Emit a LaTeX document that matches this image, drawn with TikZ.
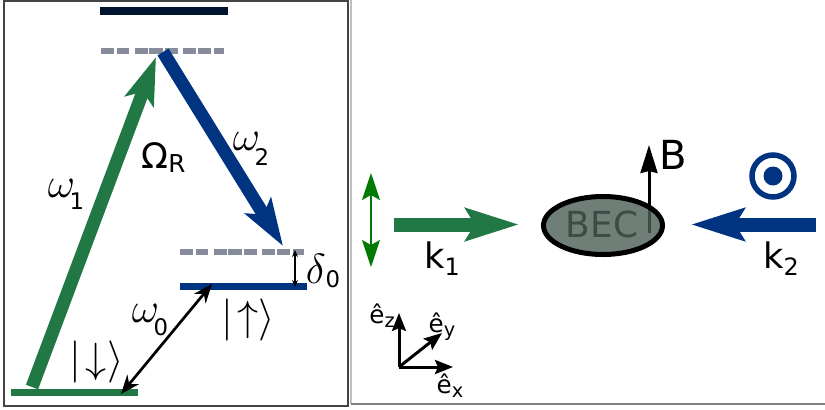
\documentclass[tikz,border=0pt]{standalone}
\usepackage{fontspec}
\setmainfont{DejaVu Sans}
\usetikzlibrary{arrows.meta, shapes.geometric, positioning}
\definecolor{colorVerde}{HTML}{217844}
\definecolor{colorAzul}{HTML}{003380}
\definecolor{colorNoche}{HTML}{00132F}
\definecolor{colorGris}{HTML}{868C9C}
\definecolor{colorPol}{HTML}{007A00}
\definecolor{colorMarco}{HTML}{444444}
\definecolor{colorBec}{HTML}{4B5F56}
% subindice: bajada y tamano
\newcommand{\subi}[3]{\raisebox{-#1pt}{\fontsize{#2}{8}\selectfont #3}}

\begin{document}
\begin{tikzpicture}[font=\fontsize{10}{12}\selectfont, >=Latex,
        level/.style={line width=0.7mm},
        virtual/.style={line width=0.6mm, colorGris, dash pattern=on 1.3mm off 0.3mm on 1.2mm off 0.6mm on 1.3mm off 0.1mm on 1.4mm off 0.2mm on 1.3mm off 0.5mm on 1.3mm off 0.2mm on 1.3mm off 0.3mm on 1.1mm off 1mm},
        beam/.style={line width=1.3mm, -{Stealth[length=4.7mm, width=3mm, inset=1mm]}},
        kbeam/.style={line width=1.4mm, -{Stealth[length=5.3mm, width=3.2mm, inset=0.9mm]}},
        axis/.style={line width=0.3mm, -{Stealth[length=1.8mm, width=1.4mm, inset=0.3mm]}},
        lab/.style={inner sep=0pt, anchor=base},
        sym/.style={inner sep=0pt, anchor=base, font=\fontsize{12}{14}\selectfont},
        eje/.style={inner sep=0pt, anchor=base, font=\fontsize{7}{9}\selectfont}]
        \useasboundingbox (0,0) rectangle (8.25,4.09);
        % marcos
        \draw[colorMarco, line width=0.2mm] (0.035,0.035) rectangle (3.48,4.08);
        \draw[black!25, line width=0.25mm] (3.51,4.09) -- (3.51,0.05);
        \draw[black!50, line width=0.15mm] (3.51,0.05) -- (8.25,0.05);
        % niveles
        \draw[colorNoche, line width=0.85mm, rounded corners=0.2mm] (1.00,3.98) -- (2.28,3.98);
        \draw[virtual] (1.01,3.58) -- (2.24,3.58);
        \draw[virtual] (1.80,1.57) -- (3.04,1.57);
        \draw[level, colorAzul] (1.80,1.225) -- (3.07,1.225);
        \draw[level, colorVerde] (0.11,0.17) -- (1.38,0.17);
        \coordinate (w1a) at (0.32,0.22);
        \coordinate (w1b) at (1.56,3.52);
        \coordinate (w2a) at (1.63,3.57);
        \coordinate (w2b) at (2.83,1.63);
        \coordinate (w0a) at (2.12,1.25);
        \coordinate (w0b) at (1.21,0.15);
        \coordinate (d0a) at (2.95,1.59);
        \coordinate (d0b) at (2.95,1.22);
        \draw[beam, colorVerde] (w1a) -- (w1b);
        \draw[beam, colorAzul] (w2a) -- (w2b);
        \draw[line width=0.27mm, {Stealth[length=1.9mm, width=1.5mm]}-{Stealth[length=1.9mm, width=1.5mm]}] (w0a) -- (w0b);
        \draw[line width=0.12mm, {Stealth[length=0.7mm, width=0.6mm]}-{Stealth[length=0.7mm, width=0.6mm]}] (d0a) -- (d0b);
        \node[sym] (wuno) at (0.66,2.12) {$\omega$\kern-1.5pt\subi{3.6}{6.5}{1}};
        \node[sym] (wdos) at (2.51,2.59) {$\omega$\kern-1.5pt\subi{4.5}{6.5}{2}};
        \node[sym] (wcero) at (1.50,0.87) {$\omega$\kern-1.5pt\subi{3.7}{6.5}{0}};
        \node[lab] (rabi) at (1.635,2.41) {Ω\subi{1.4}{7}{R}};
        \node[sym] (delta) at (3.23,1.26) {$\delta$\subi{1.4}{6.5}{0}};
        \node[sym] (abajo) at (0.965,0.37) {$|\!\downarrow\rangle$};
        \node[sym] (arriba) at (2.48,0.79) {$|\!\uparrow\rangle$};
        % BEC, bajo la elipse
        \coordinate (centro) at (6.03,1.835);
        \coordinate (bbase) at (6.49,1.76);
        \coordinate (btip) at (6.49,2.64);
        \node[lab, font=\fontsize{10.2}{12}\selectfont] (becl) at (6.02,1.72) {BEC};
        \draw[line width=0.3mm, -{Stealth[length=2.8mm, width=1.7mm, inset=0.2mm]}] (bbase) -- (btip);
        \node[draw, ellipse, line width=0.5mm, minimum width=1.19cm, minimum height=0.58cm,
            inner sep=0pt, fill=colorBec, fill opacity=0.8, draw opacity=1] (bec) at (centro) {};
        \node[lab, font=\fontsize{11.4}{14}\selectfont] (bfield) at (6.735,2.40) {B};
        % haces
        \coordinate (kunoa) at (3.94,1.845);
        \coordinate (kunob) at (5.19,1.845);
        \coordinate (kdosa) at (8.16,1.845);
        \coordinate (kdosb) at (6.91,1.845);
        \coordinate (pola) at (3.71,2.36);
        \coordinate (polb) at (3.71,1.42);
        \draw[kbeam, colorVerde] (kunoa) -- (kunob);
        \draw[kbeam, colorAzul] (kdosa) -- (kdosb);
        \draw[line width=0.2mm, colorPol, {Stealth[length=2.7mm, width=1.8mm, inset=0.5mm]}-{Stealth[length=2.7mm, width=1.8mm, inset=0.5mm]}] (pola) -- (polb);
        \node[lab] (kuno) at (4.42,1.41) {k\subi{2}{6.8}{1}};
        \node[lab] (kdos) at (7.81,1.41) {k\subi{2}{6.8}{2}};
        \node[circle, draw=colorAzul, line width=0.55mm, minimum size=0.42cm, inner sep=0pt] (polcirc) at (7.73,2.33) {};
        \node[circle, fill=colorAzul, minimum size=0.19cm, inner sep=0pt] (poldot) at (polcirc) {};
        % ejes
        \coordinate (orig) at (3.99,0.42);
        \coordinate (ex) at (4.53,0.42);
        \coordinate (ey) at (4.42,0.76);
        \coordinate (ez) at (3.99,0.96);
        \draw[axis] (orig) -- (ex);
        \draw[axis] (orig) -- (ey);
        \draw[axis] (orig) -- (ez);
        \node[eje] (etx) at (4.50,0.16) {ê\subi{1.2}{5.5}{x}};
        \node[eje] (ety) at (4.42,0.77) {ê\subi{1.2}{5.5}{y}};
        \node[eje] (etz) at (3.82,0.86) {ê\subi{1.2}{5.5}{z}};
    \end{tikzpicture}
\end{document}
